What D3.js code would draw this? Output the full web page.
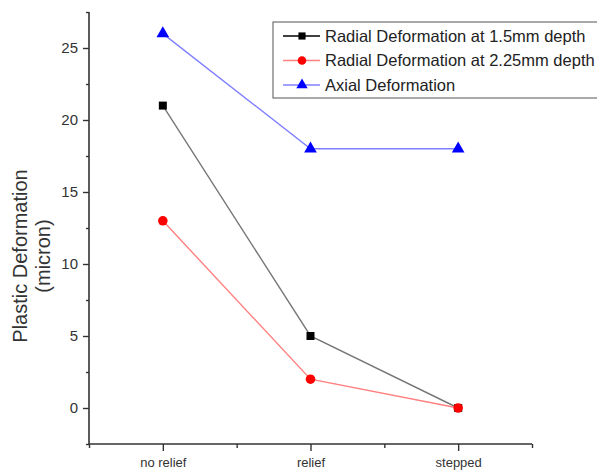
<!DOCTYPE html>
<html><head><meta charset="utf-8">
<script src="https://cdn.jsdelivr.net/npm/d3@7/dist/d3.min.js"></script>
<style>body{margin:0;background:#fff;} svg{display:block;}</style>
</head><body><svg id="c" width="597" height="470"></svg>
<script>
const categories = ["no relief", "relief", "stepped"];
const radial15 = [21, 5, 0];
const radial225 = [13, 2, 0];
const axial = [26, 18, 18];
const seriesNames = ["Radial Deformation at 1.5mm depth", "Radial Deformation at 2.25mm depth", "Axial Deformation"];
const yTicks = [0, 5, 10, 15, 20, 25];

const svg = d3.select("#c");
const font = "Arial, 'Liberation Sans', sans-serif";
const x = d3.scaleLinear().domain([-0.5, 2.5]).range([89, 532]);
const y = d3.scaleLinear().domain([-2.5, 27.5]).range([444, 12]);
const axisColor = "#333";

// y axis
svg.append("line").attr("x1",89).attr("x2",89).attr("y1",y(27.5)).attr("y2",y(-2.5)).attr("stroke",axisColor).attr("stroke-width",1.6);
const yMaj = svg.append("g").attr("transform","translate(89,0)").call(d3.axisLeft(y).tickValues(yTicks).tickSize(6).tickPadding(5).tickFormat(d3.format("d")));
yMaj.select(".domain").remove();
yMaj.selectAll("line").attr("stroke",axisColor).attr("stroke-width",1.4);
yMaj.selectAll("text").attr("font-family",font).attr("font-size",15).attr("fill","#333");
const yMin = svg.append("g").attr("transform","translate(89,0)").call(d3.axisLeft(y).tickValues(d3.range(-2.5, 27.6, 5)).tickSize(3).tickFormat(""));
yMin.select(".domain").remove();
yMin.selectAll("line").attr("stroke",axisColor).attr("stroke-width",1.4);

// x axis
const xMaj = svg.append("g").attr("transform","translate(0,444)").call(d3.axisBottom(x).tickValues([0,1,2]).tickSize(7).tickPadding(7).tickFormat(i => categories[i]));
xMaj.select(".domain").attr("stroke",axisColor).attr("stroke-width",1.6).attr("d","M89,0H532");
xMaj.selectAll("line").attr("stroke",axisColor).attr("stroke-width",1.4);
xMaj.selectAll("text").attr("font-family",font).attr("font-size",13).attr("fill","#333");
const xMin = svg.append("g").attr("transform","translate(0,444)").call(d3.axisBottom(x).tickValues([-0.5,0.5,1.5,2.5]).tickSize(4).tickFormat(""));
xMin.select(".domain").remove();
xMin.selectAll("line").attr("stroke",axisColor).attr("stroke-width",1.4);

// y label
const yl = svg.append("text").attr("transform","translate(27,256) rotate(-90)").attr("text-anchor","middle")
  .attr("font-family",font).attr("font-size",20).attr("fill","#333");
yl.append("tspan").attr("x",0).attr("dy",0).text("Plastic Deformation");
yl.append("tspan").attr("x",0).attr("dy",23).text("(micron)");

const series = [
  {name: seriesNames[0], values: radial15, line: "#777", fill: "#000", shape: "square"},
  {name: seriesNames[1], values: radial225, line: "#ff8080", fill: "#ff0000", shape: "circle"},
  {name: seriesNames[2], values: axial, line: "#8080ff", fill: "#0000ff", shape: "triangle"}
];
const sym = {square: d3.symbolSquare, circle: d3.symbolCircle, triangle: d3.symbolTriangle};
const symSize = {square: 64, circle: 72, triangle: 70};
const line = d3.line().x((d,i)=>x(i)).y(d=>y(d));
series.forEach(s => {
  svg.append("path").attr("d", line(s.values)).attr("fill","none").attr("stroke", s.line).attr("stroke-width",1.4);
});
series.forEach(s => {
  svg.selectAll(null).data(s.values).enter().append("path")
    .attr("d", d3.symbol().type(sym[s.shape]).size(symSize[s.shape]))
    .attr("transform",(d,i)=>`translate(${x(i)},${y(d)})`).attr("fill", s.fill);
});

// legend
const lg = svg.append("g");
lg.append("rect").attr("x",273).attr("y",22).attr("width",340).attr("height",76).attr("fill","#fff").attr("stroke","#555").attr("stroke-width",1);
series.forEach((s,k) => {
  const yy = 36 + k*24.5;
  lg.append("line").attr("x1",283).attr("x2",320).attr("y1",yy).attr("y2",yy).attr("stroke",k===0?"#000":s.line).attr("stroke-width",1.3);
  lg.append("path").attr("d", d3.symbol().type(sym[s.shape]).size(symSize[s.shape]*0.8)).attr("transform",`translate(302,${yy})`).attr("fill",s.fill);
  lg.append("text").attr("x",325).attr("y",yy).attr("dy","0.36em").attr("font-family",font).attr("font-size",16.5).attr("fill","#222").text(s.name);
});
</script></body></html>
